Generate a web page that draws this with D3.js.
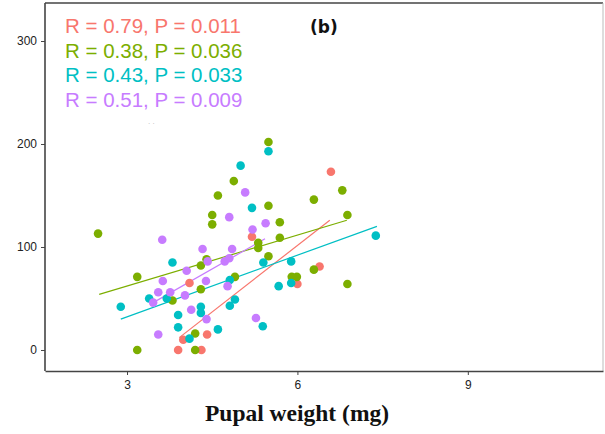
<!DOCTYPE html>
<html>
<head>
<meta charset="utf-8">
<script src="https://cdn.jsdelivr.net/npm/d3@7"></script>
<style>
  body { margin: 0; background: #fff; }
</style>
</head>
<body>
<div id="chart"></div>
<script>
// data
const groups = ['A', 'B', 'C', 'D'];
const colors = ['#F8766D', '#7CAE00', '#00BFC4', '#C77CFF'];
const statLabels = ['R = 0.79, P = 0.011', 'R = 0.38, P = 0.036', 'R = 0.43, P = 0.033', 'R = 0.51, P = 0.009'];
const xTicks = [3, 6, 9];
const yTicks = [0, 100, 200, 300];

const redPts = [[3.90, 0], [4.31, 0], [3.99, 10], [4.41, 15], [4.10, 65], [5.20, 110], [6.00, 64], [6.39, 81], [6.59, 173]];
const greenPts = [[2.49, 113], [3.18, 71], [3.18, 0], [3.80, 48], [4.20, 16], [4.20, 0], [4.30, 59], [4.30, 82],
  [4.40, 88], [4.50, 131], [4.50, 122], [4.60, 150], [4.88, 164], [4.90, 71], [5.31, 104], [5.31, 99], [5.49, 202],
  [5.49, 140], [5.49, 91], [5.69, 124], [5.69, 109], [5.90, 71], [5.99, 71], [6.29, 78], [6.29, 146], [6.79, 155],
  [6.88, 131], [6.88, 64]];
const cyanPts = [[2.89, 42], [3.39, 50], [3.70, 50], [3.80, 85], [3.90, 34], [3.90, 22], [4.10, 11], [4.30, 42],
  [4.30, 36], [4.60, 20], [4.81, 68], [4.81, 43], [4.90, 49], [5.00, 179], [5.20, 138], [5.40, 85], [5.39, 23],
  [5.49, 193], [5.67, 62], [5.89, 86], [5.89, 65], [7.38, 111]];
const purplePts = [[3.46, 46], [3.55, 56], [3.55, 15], [3.62, 107], [3.63, 67], [3.76, 56], [4.02, 53], [4.05, 77],
  [4.13, 39], [4.33, 98], [4.39, 67], [4.40, 30], [4.42, 86], [4.72, 86], [4.77, 62], [4.80, 89], [4.80, 129],
  [4.85, 98], [5.08, 153], [5.21, 117], [5.27, 31], [5.44, 123]];

// fitted lines: [x0, y0, x1, y1]
const fitLines = [[3.92, 12, 6.57, 126], [2.51, 54, 6.87, 126], [2.89, 30, 7.40, 120], [3.46, 46, 5.43, 108]];

const allPts = [redPts, greenPts, cyanPts, purplePts];

const width = 605, height = 434;
const margin = { top: 3, right: 2, bottom: 63, left: 45 };
const chartWidth = width - margin.left - margin.right;
const chartHeight = height - margin.top - margin.bottom;

const svg = d3.select('#chart').append('svg')
  .attr('width', width)
  .attr('height', height)
  .style('font-family', 'Liberation Sans, Arial, sans-serif');

const g = svg.append('g')
  .attr('transform', `translate(${margin.left}, ${margin.top})`);

const xScale = d3.scaleLinear().domain([1.556, 11.38]).range([0, chartWidth]);
const yScale = d3.scaleLinear().domain([-20.4, 336.9]).range([chartHeight, 0]);

// panel border (top / right)
g.append('line').attr('x1', 0).attr('x2', chartWidth).attr('y1', 0).attr('y2', 0)
  .attr('stroke', '#444').attr('stroke-width', 1.5);
g.append('line').attr('x1', chartWidth).attr('x2', chartWidth).attr('y1', 0).attr('y2', chartHeight)
  .attr('stroke', '#bbb').attr('stroke-width', 1);

// axes
const xAxis_g = g.append('g')
  .attr('transform', `translate(0, ${chartHeight})`)
  .call(d3.axisBottom(xScale).tickValues(xTicks).tickSize(4).tickPadding(5).tickSizeOuter(0));
const yAxis_g = g.append('g')
  .call(d3.axisLeft(yScale).tickValues(yTicks).tickSize(4).tickPadding(4).tickSizeOuter(0));

[xAxis_g, yAxis_g].forEach(ax => {
  ax.select('.domain').attr('stroke', '#444').attr('stroke-width', 1.6);
  ax.selectAll('.tick line').attr('stroke', '#444');
  ax.selectAll('.tick text').attr('fill', '#222').style('font-size', '12px')
    .style('font-family', 'Liberation Sans, Arial, sans-serif');
});
yAxis_g.select('.domain').attr('d', `M0,${chartHeight}V0`);

// fitted lines
fitLines.forEach((l, i) => {
  g.append('line')
    .attr('x1', xScale(l[0])).attr('y1', yScale(l[1]))
    .attr('x2', xScale(l[2])).attr('y2', yScale(l[3]))
    .attr('stroke', colors[i])
    .attr('stroke-width', 1.2);
});

// points
allPts.forEach((pts, i) => {
  g.append('g').selectAll('circle')
    .data(pts)
    .enter()
    .append('circle')
    .attr('cx', d => xScale(d[0]))
    .attr('cy', d => yScale(d[1]))
    .attr('r', 4.3)
    .attr('fill', colors[i]);
});

// R / P labels
statLabels.forEach((t, i) => {
  svg.append('text')
    .attr('x', 65)
    .attr('y', 33 + i * 24.7)
    .attr('fill', colors[i])
    .style('font-size', '20.5px')
    .text(t);
});

svg.append('text')
  .attr('x', 310).attr('y', 33)
  .style('font-family', 'DejaVu Sans, sans-serif')
  .style('font-weight', 'bold')
  .style('font-size', '17px')
  .attr('fill', '#111')
  .text('(b)');

svg.append('text')
  .attr('x', 148).attr('y', 124)
  .style('font-size', '8px')
  .attr('fill', '#bbb')
  .text('. .');

// x axis title
svg.append('text')
  .attr('x', 297).attr('y', 421)
  .attr('text-anchor', 'middle')
  .style('font-family', 'Liberation Serif, Times New Roman, serif')
  .style('font-weight', 'bold')
  .style('font-size', '23.5px')
  .attr('fill', '#111')
  .text('Pupal weight (mg)');
</script>
</body>
</html>
